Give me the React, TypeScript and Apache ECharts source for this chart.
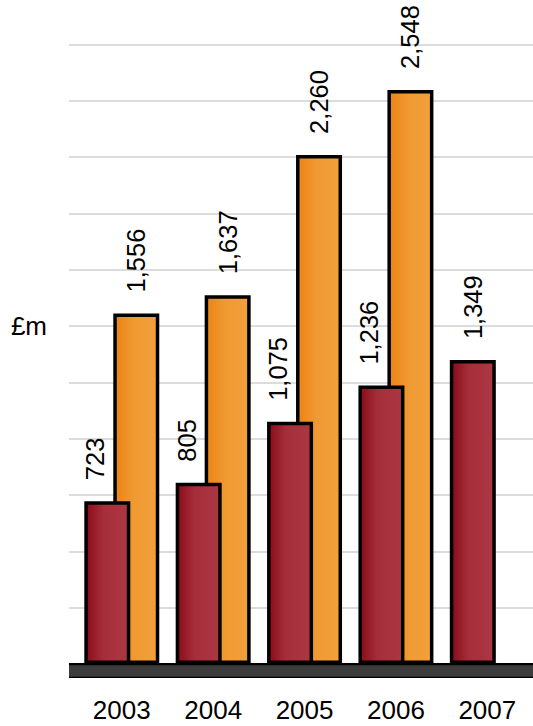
import React, { useEffect, useRef } from "react";
import * as echarts from "echarts";

const years = ["2003", "2004", "2005", "2006", "2007"];
const redValues: (number | null)[] = [723, 805, 1075, 1236, 1349];
const orangeValues: (number | null)[] = [1556, 1637, 2260, 2548, null];
const yMin = 0;
const yMax = 2750;
const yInterval = 250;
const unitLabel = "£m";
const unitLevel = 1500;

const FONT = "'Liberation Sans', Arial, Helvetica, sans-serif";

const fmt = (v: number) => v.toLocaleString("en-GB");

export default function App() {
  const ref = useRef<HTMLDivElement>(null);
  useEffect(() => {
    if (!ref.current) return;
    const chart = echarts.init(ref.current, null, { renderer: "svg" });
    const redGrad = new echarts.graphic.LinearGradient(0, 0, 1, 0, [
      { offset: 0, color: "#8a0b18" },
      { offset: 0.4, color: "#a52e3a" },
      { offset: 1, color: "#ab3843" },
    ]);
    const orangeGrad = new echarts.graphic.LinearGradient(0, 0, 1, 0, [
      { offset: 0, color: "#ec8312" },
      { offset: 0.45, color: "#f09a33" },
      { offset: 1, color: "#f1a03c" },
    ]);
    const baseLabel = {
      show: true,
      position: "top",
      distance: 21,
      rotate: 90,
      align: "left",
      verticalAlign: "middle",
      fontSize: 25.5,
      fontFamily: FONT,
      color: "#000",
      formatter: (p: any) => fmt(p.value),
    };
    const axisBase = {
      gridIndex: 0,
      type: "value",
      min: 0,
      max: 1,
      position: "bottom",
      axisTick: { show: false },
      axisLabel: { show: false },
      splitLine: { show: false },
    };
    const option: any = {
      animation: false,
      backgroundColor: "#fff",
      grid: [
        { left: 69, right: 0, top: 44.5, bottom: 62, containLabel: false },
        { left: 76.1, width: 463.75, top: 44.5, bottom: 62, containLabel: false },
      ],
      xAxis: [
        {
          ...axisBase,
          offset: 6.5,
          axisLine: {
            show: true,
            onZero: false,
            lineStyle: { color: "#000", width: 15, cap: "butt" },
          },
          z: 0,
        },
        {
          ...axisBase,
          offset: 6.5,
          axisLine: {
            show: true,
            onZero: false,
            lineStyle: { color: "#3c3c3c", width: 11.5, cap: "butt" },
          },
          z: 1,
        },
        {
          gridIndex: 1,
          type: "category",
          data: years,
          position: "bottom",
          axisLine: { show: false },
          axisTick: { show: false },
          axisLabel: {
            fontSize: 26,
            fontFamily: FONT,
            color: "#000",
            margin: 33,
          },
          splitLine: { show: false },
        },
      ],
      yAxis: [
        {
          gridIndex: 0,
          type: "value",
          min: yMin,
          max: yMax,
          interval: yInterval,
          axisLine: { show: false },
          axisTick: { show: false },
          axisLabel: {
            fontSize: 26,
            fontFamily: FONT,
            color: "#000",
            margin: 22,
            formatter: (v: number) => (v === unitLevel ? unitLabel : ""),
          },
          splitLine: { show: true, lineStyle: { color: "#dcdcdc", width: 2 } },
        },
        {
          gridIndex: 1,
          type: "value",
          min: yMin,
          max: yMax,
          interval: yInterval,
          show: false,
          splitLine: { show: false },
        },
      ],
      series: [
        {
          type: "bar",
          xAxisIndex: 2,
          yAxisIndex: 1,
          barWidth: 46,
          barGap: "-37%",
          z: 4,
          itemStyle: { color: redGrad, borderColor: "#000", borderWidth: 3.5 },
          label: baseLabel,
          data: redValues.map((v, i) => ({
            value: v,
            label: { offset: orangeValues[i] != null ? [0, -12] : [0, 0] },
          })),
        },
        {
          type: "bar",
          xAxisIndex: 2,
          yAxisIndex: 1,
          barWidth: 46,
          barGap: "-37%",
          z: 3,
          itemStyle: { color: orangeGrad, borderColor: "#000", borderWidth: 3.5 },
          label: baseLabel,
          data: orangeValues.map((v) => (v == null ? "-" : v)),
        },
      ],
    };
    chart.setOption(option);
    return () => chart.dispose();
  }, []);
  return (
    <div
      ref={ref}
      style={{ position: "absolute", left: 0, top: 0, width: 533, height: 726 }}
    />
  );
}
